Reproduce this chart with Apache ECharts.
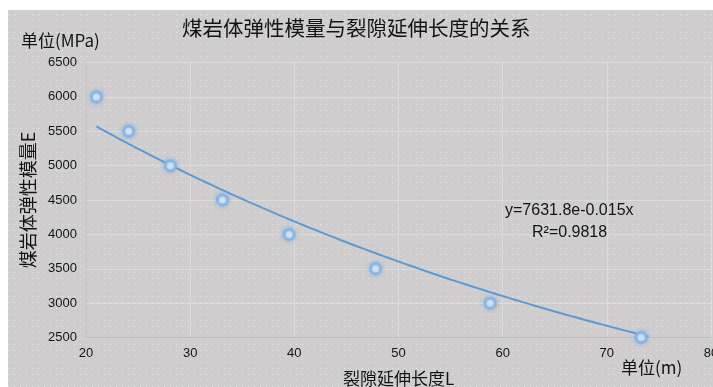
<!DOCTYPE html>
<html>
<head>
<meta charset="utf-8">
<script src="https://cdn.jsdelivr.net/npm/echarts@6/dist/echarts.min.js"></script>
<style>
  html, body { margin: 0; padding: 0; background: #ffffff; }
  #chart { width: 713px; height: 387px; }
</style>
</head>
<body>
<div id="chart"></div>
<script>
// Fracture extension length L (m) and coal-rock elastic modulus E (MPa)
const lengths = [21, 24.1, 28.1, 33.1, 39.5, 47.8, 58.8, 73.3];
const moduli  = [6000, 5500, 5000, 4500, 4000, 3500, 3000, 2500];

// Exponential trendline y = a * e^(b x), coefficients as printed on the chart
const trendA = 7631.8;
const trendB = -0.015;
const trendR2 = 0.9818;
const trendRange = [21, 74];

const xTicks = [20, 30, 40, 50, 60, 70, 80];
const yTicks = [2500, 3000, 3500, 4000, 4500, 5000, 5500, 6000, 6500];

const trendPoints = [];
for (let x = trendRange[0]; x <= trendRange[1] + 1e-9; x += 0.5) {
  trendPoints.push([x, trendA * Math.exp(trendB * x)]);
}
const scatterPoints = lengths.map((x, i) => [x, moduli[i]]);

// Dotted grey backdrop tile
const tile = document.createElement('canvas');
tile.width = 6; tile.height = 6;
const tctx = tile.getContext('2d');
tctx.fillStyle = '#cfcdce';
tctx.fillRect(0, 0, 6, 6);
tctx.fillStyle = '#e6e5e6';
tctx.fillRect(2, 2, 1, 1);

const latin = '"Liberation Sans", Arial, sans-serif';
const cjk = '"Noto Sans CJK SC", "Liberation Sans", sans-serif';
const ink = '#141414';

const chart = echarts.init(document.getElementById('chart'));
chart.setOption({
  animation: false,
  backgroundColor: '#ffffff',
  graphic: [
    {
      type: 'rect', z: -10, silent: true,
      shape: { x: 8, y: 10, width: 705, height: 377 },
      style: { fill: { image: tile, repeat: 'repeat' } }
    },
    {
      type: 'text', left: 182, top: 18, z: 10,
      style: { text: '煤岩体弹性模量与裂隙延伸长度的关系', font: '20.5px ' + cjk, fill: ink }
    },
    {
      type: 'text', left: 21, top: 32, z: 10,
      style: { text: '单位(MPa)', font: '17px ' + cjk, fill: ink }
    },
    {
      type: 'text', left: 621, top: 359, z: 10,
      style: { text: '单位(m)', font: '17px ' + cjk, fill: ink }
    },
    {
      type: 'text', left: 505, top: 203, z: 10,
      style: { text: 'y=' + trendA + 'e' + trendB + 'x', font: '16px ' + latin, fill: ink }
    },
    {
      type: 'text', left: 532, top: 225, z: 10,
      style: { text: 'R²=' + trendR2, font: '16px ' + latin, fill: ink }
    }
  ],
  grid: { left: 86, right: 2, top: 62.5, bottom: 49.5, containLabel: false, outerBoundsMode: 'none' },
  xAxis: {
    type: 'value',
    min: xTicks[0], max: xTicks[xTicks.length - 1], interval: 10,
    name: '裂隙延伸长度L',
    nameLocation: 'middle', nameGap: 33,
    nameTextStyle: { fontFamily: cjk, fontSize: 17, color: ink },
    axisLine: { show: true, lineStyle: { color: '#bdbcbd', width: 1 } },
    axisTick: { show: false },
    axisLabel: { fontFamily: latin, fontSize: 13, color: ink, margin: 9 },
    splitLine: { show: true, lineStyle: { color: '#dddcdd', width: 1 } }
  },
  yAxis: {
    type: 'value',
    min: yTicks[0], max: yTicks[yTicks.length - 1], interval: 500,
    name: '煤岩体弹性模量E',
    nameLocation: 'middle', nameGap: 49, nameRotate: 90,
    nameTextStyle: { fontFamily: cjk, fontSize: 18, color: ink },
    axisLine: { show: true, lineStyle: { color: '#c6c5c6', width: 1 } },
    axisTick: { show: false },
    axisLabel: { fontFamily: latin, fontSize: 13, color: ink, margin: 9, formatter: v => String(v) },
    splitLine: { show: true, lineStyle: { color: '#dddcdd', width: 1 } }
  },
  series: [
    {
      type: 'line',
      data: trendPoints,
      showSymbol: false,
      smooth: false,
      lineStyle: { color: '#5b9bd5', width: 2 },
      z: 2
    },
    {
      type: 'scatter',
      data: scatterPoints,
      symbol: 'circle',
      symbolSize: 10,
      itemStyle: {
        color: '#ffffff',
        borderColor: '#82b1e2',
        borderWidth: 3,
        shadowBlur: 4,
        shadowColor: 'rgba(120,170,230,0.9)'
      },
      z: 3
    }
  ]
});
</script>
</body>
</html>
